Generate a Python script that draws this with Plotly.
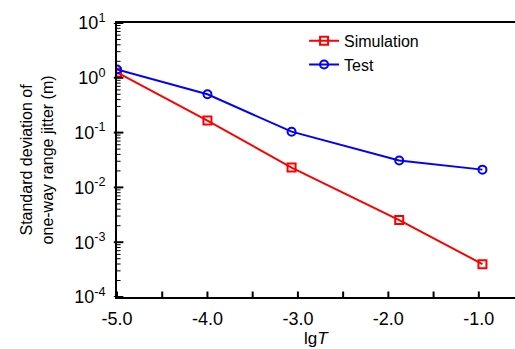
import plotly.graph_objects as go

lgT_sim = [-5.0, -4.0, -3.07, -1.88, -0.96]
sim = [1.25, 0.166, 0.023, 0.00254, 0.000398]
lgT_test = [-5.0, -4.0, -3.07, -1.88, -0.96]
test = [1.42, 0.50, 0.104, 0.031, 0.0211]

xtick_vals = [-5.0, -4.0, -3.0, -2.0, -1.0]
xtick_text = ["-5.0", "-4.0", "-3.0", "-2.0", "-1.0"]
xminor_vals = [-4.5, -3.5, -2.5, -1.5]
ytick_vals = [1e-4, 1e-3, 1e-2, 1e-1, 1, 10]
ytick_text = ["10<sup>-4</sup>", "10<sup>-3</sup>", "10<sup>-2</sup>",
              "10<sup>-1</sup>", "10<sup>0</sup>", "10<sup>1</sup>"]
yminor_vals = [m * d for d in [1e-4, 1e-3, 1e-2, 1e-1, 1] for m in range(2, 10)]

FONT = "Liberation Sans, Arial, sans-serif"

fig = go.Figure()
fig.add_trace(go.Scatter(
    x=lgT_sim, y=sim, name="Simulation", mode="lines+markers",
    line=dict(color="#ff0000", width=2),
    marker=dict(symbol="square-open", size=8, color="#ff0000", line=dict(width=2)),
))
fig.add_trace(go.Scatter(
    x=lgT_test, y=test, name="Test", mode="lines+markers",
    line=dict(color="#0000ff", width=2),
    marker=dict(symbol="circle-open", size=8, color="#0000ff", line=dict(width=2)),
))

# axis tick decorations (inside ticks)
shapes = []
for v in yminor_vals:
    shapes.append(dict(type="line", xref="paper", yref="y", x0=0, x1=0.009,
                       y0=v, y1=v, line=dict(color="black", width=1), layer="above"))
for v in ytick_vals:
    shapes.append(dict(type="line", xref="paper", yref="y", x0=-0.008, x1=0.016,
                       y0=v, y1=v, line=dict(color="black", width=2), layer="above"))
for v in xtick_vals + xminor_vals:
    shapes.append(dict(type="line", xref="x", yref="paper", x0=v, x1=v,
                       y0=0, y1=0.02, line=dict(color="black", width=2), layer="above"))

fig.update_layout(
    width=515, height=349,
    margin=dict(l=117, r=0, t=23, b=52),
    paper_bgcolor="white", plot_bgcolor="white",
    font=dict(family=FONT, color="black", size=16),
    showlegend=True,
    legend=dict(x=0.47, y=0.997, xanchor="left", yanchor="top",
                bgcolor="rgba(0,0,0,0)", font=dict(size=16), tracegroupgap=0),
    xaxis=dict(
        range=[-5.0, -0.6], tickmode="array", tickvals=xtick_vals, ticktext=xtick_text,
        ticks="", ticklabelstandoff=4,
        showline=True, linewidth=2, linecolor="black", mirror=True,
        showgrid=False, zeroline=False, automargin=False,
        tickfont=dict(size=18),
    ),
    yaxis=dict(
        type="log", range=[-4, 1], tickmode="array", tickvals=ytick_vals, ticktext=ytick_text,
        ticks="", ticklabelstandoff=6,
        showline=True, linewidth=2, linecolor="black", mirror=False,
        showgrid=False, zeroline=False, automargin=False,
        tickfont=dict(size=18),
    ),
    shapes=shapes,
    annotations=[
        dict(text="Standard deviation of<br>one-way range jitter (m)",
             xref="paper", yref="paper", x=-0.2, y=0.5,
             xanchor="center", yanchor="middle", textangle=-90,
             showarrow=False, font=dict(size=16), align="center"),
        dict(text="lg<i>T</i>", xref="paper", yref="paper", x=0.5, y=-0.152,
             xanchor="center", yanchor="middle", showarrow=False,
             font=dict(size=17)),
    ],
)

fig.write_html("out.html")
